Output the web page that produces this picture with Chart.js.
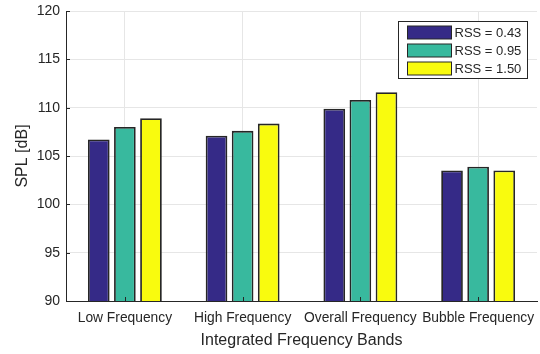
<!DOCTYPE html>
<html>
<head>
<meta charset="utf-8">
<script src="https://cdn.jsdelivr.net/npm/chart.js@4/dist/chart.umd.min.js"></script>
<style>
  html, body { margin: 0; padding: 0; background: #ffffff; }
  #wrap { width: 540px; height: 354px; }
</style>
</head>
<body>
<div id="wrap"><canvas id="c" width="540" height="354"></canvas></div>
<script>
// Integrated SPL per frequency band for three RSS settings
const categories = ['Low Frequency', 'High Frequency', 'Overall Frequency', 'Bubble Frequency'];
const seriesLabels = ['RSS = 0.43', 'RSS = 0.95', 'RSS = 1.50'];
const rss043 = [106.7, 107.1, 109.9, 103.5];
const rss095 = [108.0, 107.6, 110.8, 103.9];
const rss150 = [108.9, 108.35, 111.6, 103.5];
const yTicks = [90, 95, 100, 105, 110, 115, 120];

const seriesColors = ['#352a87', '#38b99e', '#f9fb0e'];
const edgeColor = '#262626';
const textColor = '#262626';
const gridColor = '#e6e6e6';
const fontFamily = '"Liberation Sans", Arial, Helvetica, sans-serif';

// Short inward tick marks on the left and bottom axes
const innerTicks = {
  id: 'innerTicks',
  afterDatasetsDraw(chart) {
    const { ctx, chartArea: a, scales: { x, y } } = chart;
    ctx.save();
    ctx.strokeStyle = edgeColor;
    ctx.lineWidth = 1;
    ctx.beginPath();
    y.ticks.forEach((t, i) => {
      const py = Math.round(y.getPixelForTick(i)) + 0.5;
      ctx.moveTo(a.left, py);
      ctx.lineTo(a.left + 4, py);
    });
    x.ticks.forEach((t, i) => {
      const px = Math.round(x.getPixelForTick(i)) + 0.5;
      ctx.moveTo(px, a.bottom);
      ctx.lineTo(px, a.bottom - 4);
    });
    ctx.stroke();
    ctx.restore();
  }
};

// Boxed legend in the upper right of the plot area
const boxLegend = {
  id: 'boxLegend',
  afterDraw(chart) {
    const { ctx, chartArea: a } = chart;
    const w = 129, h = 57;
    const bx = Math.round(a.right - 10 - w) + 0.5, by = Math.round(a.top + 10) + 0.5;
    ctx.save();
    ctx.fillStyle = '#ffffff';
    ctx.fillRect(bx, by, w, h);
    ctx.strokeStyle = edgeColor;
    ctx.lineWidth = 1;
    ctx.strokeRect(bx, by, w, h);
    ctx.font = '13px ' + fontFamily;
    ctx.textBaseline = 'middle';
    ctx.textAlign = 'left';
    chart.data.datasets.forEach((ds, i) => {
      const cy = by + 11 + i * 18;
      ctx.fillStyle = ds.backgroundColor;
      ctx.fillRect(bx + 9, cy - 6.5, 44, 13);
      ctx.strokeStyle = edgeColor;
      ctx.strokeRect(bx + 9, cy - 6.5, 44, 13);
      ctx.fillStyle = textColor;
      ctx.fillText(ds.label, bx + 56, cy + 0.5);
    });
    ctx.restore();
  }
};

const makeSet = (label, data, color) => ({
  label, data,
  backgroundColor: color,
  borderColor: edgeColor,
  borderWidth: 1.8,
  borderSkipped: false,
  categoryPercentage: 0.665,
  barPercentage: 0.83
});

new Chart(document.getElementById('c'), {
  type: 'bar',
  data: {
    labels: categories,
    datasets: [
      makeSet(seriesLabels[0], rss043, seriesColors[0]),
      makeSet(seriesLabels[1], rss095, seriesColors[1]),
      makeSet(seriesLabels[2], rss150, seriesColors[2])
    ]
  },
  options: {
    responsive: false,
    devicePixelRatio: 1,
    animation: false,
    layout: { padding: { top: 11, right: 3, left: 0, bottom: 0 } },
    plugins: {
      legend: { display: false },
      tooltip: { enabled: false }
    },
    scales: {
      x: {
        grid: { offset: false, color: gridColor, drawTicks: false },
        border: { color: edgeColor, width: 1 },
        ticks: {
          color: textColor, padding: 9, maxRotation: 0, autoSkip: false,
          font: { family: fontFamily, size: 13.8 }
        },
        title: {
          display: true, text: 'Integrated Frequency Bands', color: textColor,
          font: { family: fontFamily, size: 16 }, padding: { top: 0, bottom: 4 }
        },
        afterFit(s) { s.height = 53; s.paddingLeft = 0; s.paddingRight = 0; }
      },
      y: {
        min: 90, max: 120,
        afterBuildTicks(s) { s.ticks = yTicks.map(v => ({ value: v })); },
        grid: { color: gridColor, drawTicks: false },
        border: { color: edgeColor, width: 1 },
        ticks: {
          color: textColor, padding: 6,
          font: { family: fontFamily, size: 14 }
        },
        title: {
          display: true, text: 'SPL [dB]', color: textColor,
          font: { family: fontFamily, size: 16 }, padding: { top: 13, bottom: 0 }
        },
        afterFit(s) { s.width = 66; s.paddingTop = 0; s.paddingBottom = 0; }
      }
    }
  },
  plugins: [innerTicks, boxLegend]
});
</script>
</body>
</html>
